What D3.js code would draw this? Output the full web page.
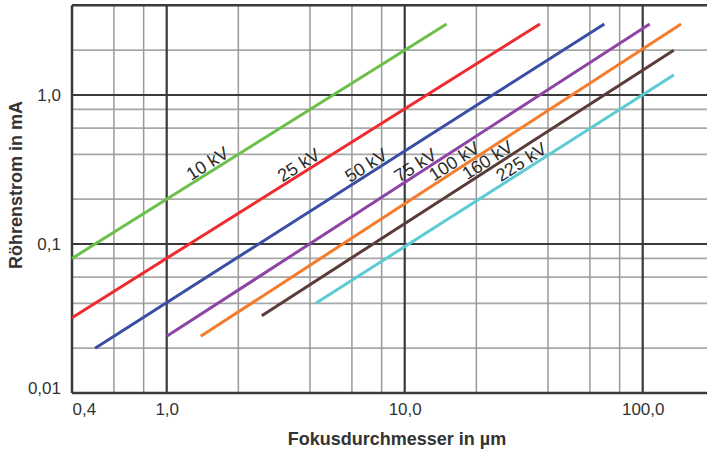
<!DOCTYPE html>
<html>
<head>
<meta charset="utf-8">
<script src="https://cdn.jsdelivr.net/npm/d3@7/dist/d3.min.js"></script>
<style>
  html, body { margin: 0; padding: 0; background: #fff; }
  svg { display: block; font-family: "Liberation Sans", Arial, sans-serif; }
</style>
</head>
<body>
<svg id="chart" width="707" height="452"></svg>
<script>
// ---- data ----
const seriesNames = ["10 kV", "25 kV", "50 kV", "75 kV", "100 kV", "160 kV", "225 kV"];
const startDiameter = [0.4, 0.4, 0.5, 1.0, 1.39, 2.51, 4.23];
const startCurrent  = [0.08, 0.032, 0.02, 0.024, 0.024, 0.033, 0.04];
const endDiameter   = [15, 37, 69, 107, 145, 135, 135];
const endCurrent    = [3.0, 3.0, 3.0, 3.0, 3.0, 2.0, 1.36];
const labelDiameter = [1.55, 3.75, 7.2, 11.6, 16.9, 23.3, 32.3];
const seriesColors  = ["#6cc04a", "#ee2b2f", "#3a4fa3", "#8e44a5", "#f47c2a", "#5b3b37", "#5ccbd4"];

const xTickValues = [0.4, 1, 10, 100];
const xTickLabels = ["0,4", "1,0", "10,0", "100,0"];
const yTickValues = [0.01, 0.1, 1];
const yTickLabels = ["0,01", "0,1", "1,0"];

const xMajorGrid = [1, 10, 100];
const xMinorGrid = [0.6, 0.8, 2, 4, 6, 8, 20, 40, 60, 80];
const yMajorGrid = [0.1, 1];
const yMinorGrid = [0.02, 0.04, 0.06, 0.08, 0.2, 0.4, 0.6, 0.8, 2];

const xTitle = "Fokusdurchmesser in µm";
const yTitle = "Röhrenstrom in mA";

// ---- layout ----
const plotLeft = 72, plotBottom = 393, decadeX = 238, decadeY = 149;
const x = d3.scaleLog().domain([0.4, 200]).range([plotLeft, plotLeft + decadeX * Math.log10(200 / 0.4)]);
const y = d3.scaleLog().domain([0.01, 4]).range([plotBottom, plotBottom - decadeY * Math.log10(4 / 0.01)]);
const plotTop = y(4), plotRight = x(200);

const svg = d3.select("#chart");

// grid
const g = svg.append("g");
g.selectAll("line.hmin").data(yMinorGrid).join("line")
  .attr("x1", plotLeft).attr("x2", plotRight).attr("y1", d => y(d)).attr("y2", d => y(d))
  .attr("stroke", "#a8a8a8").attr("stroke-width", 1.8);
g.selectAll("line.vmin").data(xMinorGrid).join("line")
  .attr("x1", d => x(d)).attr("x2", d => x(d)).attr("y1", plotTop).attr("y2", plotBottom)
  .attr("stroke", "#999").attr("stroke-width", 1.5);
g.selectAll("line.hmaj").data(yMajorGrid).join("line")
  .attr("x1", plotLeft).attr("x2", plotRight).attr("y1", d => y(d)).attr("y2", d => y(d))
  .attr("stroke", "#3a3a3a").attr("stroke-width", 2.2);
g.selectAll("line.vmaj").data(xMajorGrid).join("line")
  .attr("x1", d => x(d)).attr("x2", d => x(d)).attr("y1", plotTop).attr("y2", plotBottom)
  .attr("stroke", "#3a3a3a").attr("stroke-width", 2.2);

// frame
g.append("line").attr("x1", plotLeft).attr("x2", plotRight).attr("y1", plotTop).attr("y2", plotTop)
  .attr("stroke", "#3a3a3a").attr("stroke-width", 2.5);
g.append("line").attr("x1", plotLeft).attr("x2", plotRight).attr("y1", plotBottom).attr("y2", plotBottom)
  .attr("stroke", "#3a3a3a").attr("stroke-width", 2.5);
g.append("line").attr("x1", plotLeft).attr("x2", plotLeft).attr("y1", plotTop).attr("y2", plotBottom)
  .attr("stroke", "#3a3a3a").attr("stroke-width", 2.5);

// series lines
const series = seriesNames.map((name, i) => ({
  name, color: seriesColors[i],
  pts: [[startDiameter[i], startCurrent[i]], [endDiameter[i], endCurrent[i]]],
  labelD: labelDiameter[i]
}));
const line = d3.line().x(d => x(d[0])).y(d => y(d[1]));
svg.append("g").selectAll("path").data(series).join("path")
  .attr("d", d => line(d.pts))
  .attr("fill", "none").attr("stroke", d => d.color).attr("stroke-width", 3)
  .attr("stroke-linecap", "butt");

// series labels
svg.append("g").selectAll("text").data(series).join("text")
  .attr("transform", d => {
    const [a, b] = d.pts;
    const slope = Math.log(b[1] / a[1]) / Math.log(b[0] / a[0]);
    const cur = a[1] * Math.pow(d.labelD / a[0], slope);
    const px = x(d.labelD), py = y(cur);
    const ang = Math.atan2(y(b[1]) - y(a[1]), x(b[0]) - x(a[0])) * 180 / Math.PI;
    return `translate(${px},${py}) rotate(${ang})`;
  })
  .attr("text-anchor", "middle").attr("dy", -2.5)
  .attr("font-size", 18).attr("fill", "#2a2a2a")
  .text(d => d.name);

// axes
const xAxis = svg.append("g").attr("transform", `translate(0,${plotBottom})`)
  .call(d3.axisBottom(x).tickValues(xTickValues).tickFormat((d, i) => xTickLabels[i]).tickSize(0).tickPadding(10));
xAxis.select(".domain").remove();
xAxis.selectAll("text").attr("font-size", 17).attr("fill", "#333").attr("font-family", "Liberation Sans, Arial, sans-serif")
  .attr("dy", "0.72em")
  .attr("text-anchor", (d, i) => i === 0 ? "start" : "middle");

const yAxis = svg.append("g").attr("transform", `translate(${plotLeft},0)`)
  .call(d3.axisLeft(y).tickValues(yTickValues).tickFormat((d, i) => yTickLabels[i]).tickSize(0).tickPadding(11));
yAxis.select(".domain").remove();
yAxis.selectAll("text").attr("font-size", 17).attr("fill", "#333").attr("font-family", "Liberation Sans, Arial, sans-serif")
  .attr("dy", (d, i) => i === 0 ? "0.05em" : "0.32em");

// titles
svg.append("text").attr("x", 397).attr("y", 445).attr("text-anchor", "middle")
  .attr("font-size", 18).attr("font-weight", "bold").attr("fill", "#333").text(xTitle);
svg.append("text").attr("transform", "translate(22,185) rotate(-90)").attr("text-anchor", "middle")
  .attr("font-size", 18).attr("font-weight", "bold").attr("fill", "#333").text(yTitle);
</script>
</body>
</html>
